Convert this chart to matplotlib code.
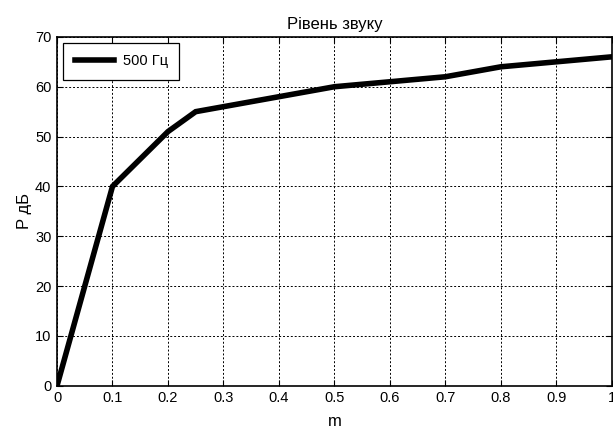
import matplotlib.pyplot as plt

plt.rcParams["font.family"] = ["Liberation Sans", "DejaVu Sans"]

# дані
m = [0, 0.1, 0.2, 0.25, 0.3, 0.4, 0.5, 0.6, 0.7, 0.8, 0.9, 1.0]
p_db = [0, 40, 51, 55, 56, 58, 60, 61, 62, 64, 65, 66]
x_ticks = [0, 0.1, 0.2, 0.3, 0.4, 0.5, 0.6, 0.7, 0.8, 0.9, 1]
x_labels = ["0", "0.1", "0.2", "0.3", "0.4", "0.5", "0.6", "0.7", "0.8", "0.9", "1"]
y_ticks = [0, 10, 20, 30, 40, 50, 60, 70]

fig = plt.figure(figsize=(6.13, 4.34), dpi=100)
ax = fig.add_axes([0.093, 0.111, 0.905, 0.804])

ax.plot(m, p_db, color="black", linewidth=4, label="500 Гц", solid_joinstyle="miter")

ax.set_xlim(0, 1)
ax.set_ylim(0, 70)
ax.set_xticks(x_ticks)
ax.set_xticklabels(x_labels)
ax.set_yticks(y_ticks)
ax.tick_params(direction="in", length=4, labelsize=10.5, top=True, right=True, pad=4)
ax.grid(True, color="black", linestyle=(0, (2, 2)), linewidth=0.7)
for s in ax.spines.values():
    s.set_linewidth(1.2)

ax.set_title("Рівень звуку", fontsize=12, pad=6)
ax.set_xlabel("m", fontsize=12, labelpad=6)
ax.set_ylabel("P дБ", fontsize=12, labelpad=2)

leg = ax.legend(loc="upper left", fontsize=10.5, fancybox=False, framealpha=1,
                edgecolor="black", borderaxespad=0.4, borderpad=0.8,
                handlelength=2.7, handletextpad=0.6)
leg.get_frame().set_linewidth(0.9)

fig.savefig("out.png", dpi=100)
